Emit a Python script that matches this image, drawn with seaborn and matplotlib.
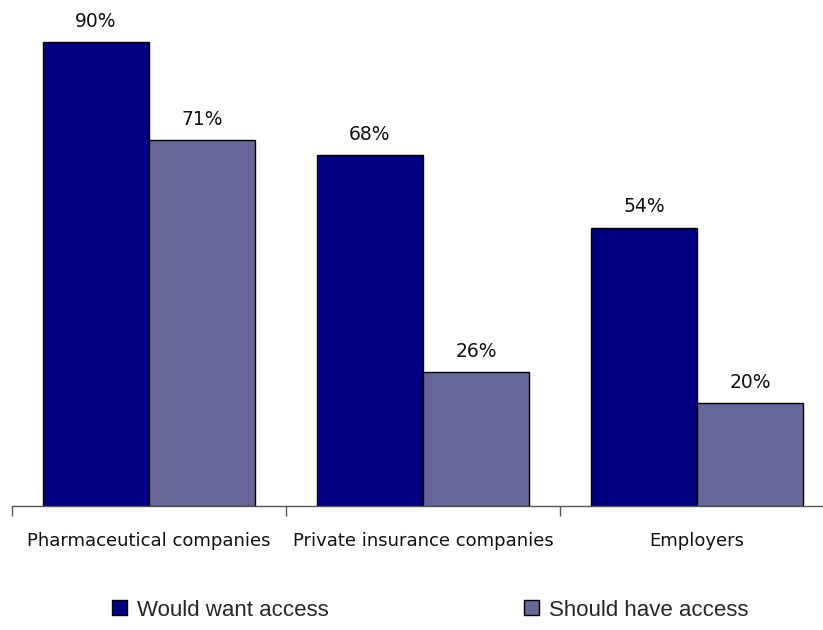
import matplotlib
matplotlib.use("Agg")
import matplotlib.pyplot as plt
import pandas as pd
import seaborn as sns

groups = ["Pharmaceutical companies", "Private insurance companies", "Employers"]
series = ["Would want access", "Should have access"]
would_want = [90, 68, 54]
should_have = [71, 26, 20]
colors = ["#000080", "#666699"]

df = pd.DataFrame({
    "group": groups * 2,
    "series": [series[0]] * 3 + [series[1]] * 3,
    "pct": would_want + should_have,
})

sns.set_style("white")
plt.rcParams["font.family"] = ["DejaVu Sans"]

fig = plt.figure(figsize=(8.23, 6.30), dpi=100)
# axis line sits at y=506px, spans from x=12px past the right edge
ax = fig.add_axes([12 / 823, 1 - 506 / 630, 822 / 823, 496 / 630])

sns.barplot(data=df, x="group", y="pct", hue="series", order=groups,
            hue_order=series, palette=colors, width=0.774,
            edgecolor="black", linewidth=1, saturation=1, ax=ax, legend=True)

ax.set_ylim(0, 496 / 5.156)
ax.set_xlim(-0.5, 2.5)
for c in ax.containers:
    ax.bar_label(c, labels=[f"{v:.0f}%" for v in c.datavalues], padding=8,
                 fontsize=13.5, color="#111111")

ax.set_xticks([-0.5, 0.5, 1.5, 2.5])
ax.set_xticklabels([])
ax.set_xticks([0, 1, 2], minor=True)
ax.set_xticklabels(groups, minor=True, fontsize=13, color="#111111")
ax.tick_params(axis="x", which="major", bottom=True, direction="out",
               length=7, width=1, colors="#555555")
ax.tick_params(axis="x", which="minor", bottom=True, length=0, pad=19)
ax.set_yticks([])
ax.set_xlabel("")
ax.set_ylabel("")
for s in ["top", "right", "left"]:
    ax.spines[s].set_visible(False)
ax.spines["bottom"].set_color("#555555")
ax.spines["bottom"].set_linewidth(1)

handles, labels = ax.get_legend_handles_labels()
ax.get_legend().remove()
leg = fig.legend(handles, labels, loc="center", bbox_to_anchor=(0.5225, 1 - 610 / 630),
                 ncol=2, frameon=False, columnspacing=8.8, handlelength=0.68,
                 handleheight=0.68, handletextpad=0.45,
                 prop={"family": "Liberation Sans", "size": 16})

fig.savefig("out.png", dpi=100)
